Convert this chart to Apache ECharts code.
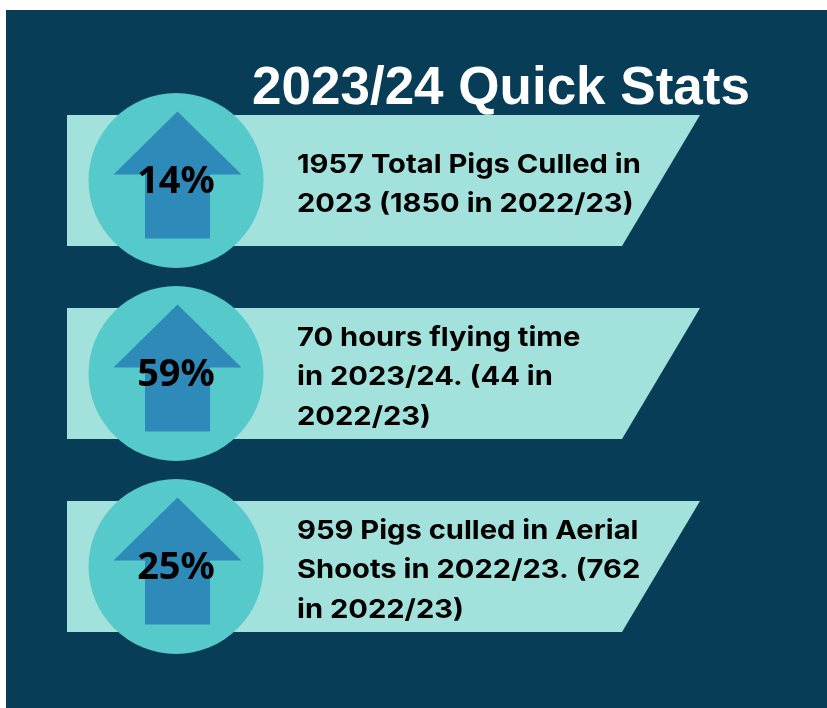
<!DOCTYPE html>
<html>
<head>
<meta charset="utf-8">
<title>2023/24 Quick Stats</title>
<script src="https://cdn.jsdelivr.net/npm/echarts@6/dist/echarts.min.js"></script>
<style>
  html, body { margin: 0; padding: 0; background: #fff; }
  #chart { width: 827px; height: 708px; }
</style>
</head>
<body>
<div id="chart"></div>
<script>
// data
var rows = ['culled', 'flying', 'aerial'];
var increases = [14, 59, 25];
var statLines = [
  ['1957 Total Pigs Culled in', '2023 (1850 in 2022/23)'],
  ['70 hours flying time', 'in 2023/24. (44 in', '2022/23)'],
  ['959 Pigs culled in Aerial', 'Shoots in 2022/23. (762', 'in 2022/23)']
];

var navy = '#083d57';
var panelColor = '#a3e1dc';
var circleColor = '#56c9cb';
var arrowColor = '#2e8ab8';

var chart = echarts.init(document.getElementById('chart'));

function renderItem(params, api) {
  var i = api.value(0);
  var cy = api.coord([0, i])[1];
  var cx = 176;
  var ax = cx + 1.5;
  var panelH = 131;
  return {
    type: 'group',
    children: [
      {
        type: 'polygon',
        shape: { points: [[67, cy - panelH / 2], [700, cy - panelH / 2], [622, cy + panelH / 2], [67, cy + panelH / 2]] },
        style: { fill: panelColor }
      },
      {
        type: 'circle',
        shape: { cx: cx, cy: cy, r: 87.5 },
        style: { fill: circleColor }
      },
      {
        type: 'polygon',
        shape: { points: [
          [ax, cy - 69], [ax + 64, cy - 6], [ax + 32.5, cy - 6], [ax + 32.5, cy + 58],
          [ax - 32.5, cy + 58], [ax - 32.5, cy - 6], [ax - 64, cy - 6]
        ] },
        style: { fill: arrowColor }
      },
      {
        type: 'text',
        style: {
          x: cx, y: cy + 2,
          text: increases[i] + '%',
          fill: '#000',
          font: 'bold 38px "Noto Sans"',
          align: 'center', verticalAlign: 'middle'
        }
      },
      {
        // the source face is wider than Inter, so stretch it a little
        type: 'text',
        x: 297, y: cy + 4,
        scaleX: 1.12,
        style: {
          x: 0, y: 0,
          text: statLines[i].join('\n'),
          fill: '#000',
          font: 'bold 26px Inter',
          lineHeight: 39.5,
          align: 'left', verticalAlign: 'middle'
        }
      }
    ]
  };
}

var option = {
  backgroundColor: '#fff',
  animation: false,
  title: {
    text: '2023/24 Quick Stats',
    left: 252,
    top: 63,
    padding: 0,
    textStyle: { color: '#fff', fontSize: 53, fontWeight: 'bold', fontFamily: '"Liberation Sans", Arial, sans-serif' }
  },
  graphic: [{
    type: 'rect', z: -10,
    shape: { x: 6, y: 10, width: 821, height: 698 },
    style: { fill: navy }
  }],
  grid: { left: 0, right: 0, top: 84, bottom: 45 },
  xAxis: { type: 'value', min: 0, max: 827, show: false },
  yAxis: { type: 'category', data: rows, inverse: true, show: false },
  series: [{
    type: 'custom',
    renderItem: renderItem,
    data: rows.map(function (r, i) { return [i]; }),
    encode: { y: 0 }
  }]
};

chart.setOption(option);
</script>
</body>
</html>
